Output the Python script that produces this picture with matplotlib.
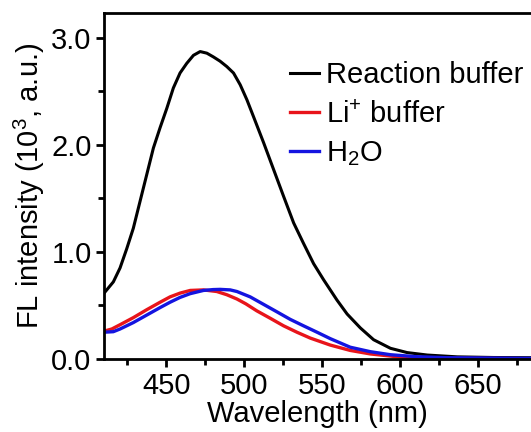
import numpy as np
import matplotlib
matplotlib.use('Agg')
import matplotlib.pyplot as plt
from matplotlib.ticker import MultipleLocator, FormatStrFormatter

plt.rcParams['font.family'] = ['Liberation Sans', 'DejaVu Sans']
plt.rcParams['mathtext.fontset'] = 'custom'
plt.rcParams['mathtext.rm'] = 'Liberation Sans'

# Reaction buffer (black)
wl_rxn = [410, 416, 420.3, 424.6, 428.8, 433.1, 437.4, 441.7, 446, 450.3, 454.5, 458.8,
          463.1, 467.4, 471.7, 476, 480.2, 484.5, 488.8, 493.1, 497.4, 501.7, 506, 512.4,
          518.8, 525.2, 531.7, 538, 544.5, 550.9, 559.5, 566, 574.5, 583, 593.8, 604.5,
          617.4, 636.7, 660, 684]
fl_rxn = [0.614, 0.72, 0.85, 1.03, 1.22, 1.47, 1.72, 1.97, 2.16, 2.34, 2.53, 2.67,
          2.76, 2.835, 2.87, 2.855, 2.82, 2.78, 2.73, 2.67, 2.56, 2.42, 2.26, 2.02,
          1.77, 1.52, 1.27, 1.08, 0.89, 0.74, 0.55, 0.42, 0.29, 0.18, 0.10, 0.06,
          0.037, 0.02, 0.014, 0.012]

# Li+ buffer (red)
wl_li = [410, 415, 420.3, 428.8, 437.4, 446, 452.4, 458.8, 465.3, 473.8, 482.4, 488.8,
         495.3, 501, 508, 516.7, 525.2, 533.8, 542.4, 555.2, 568, 581, 600, 620, 684]
fl_li = [0.26, 0.28, 0.32, 0.386, 0.46, 0.53, 0.58, 0.615, 0.64, 0.645, 0.63, 0.60,
         0.56, 0.515, 0.45, 0.38, 0.31, 0.25, 0.195, 0.13, 0.08, 0.047, 0.018, 0.007, 0.003]

# H2O (blue)
wl_h2o = [410, 416, 420.3, 428.8, 437.4, 446, 452.4, 458.8, 465.3, 473.8, 480, 484.5,
          491, 495.3, 503.8, 512.4, 521, 529.5, 538, 546.7, 555.2, 568, 581, 593.8, 610,
          630, 684]
fl_h2o = [0.25, 0.255, 0.28, 0.34, 0.41, 0.48, 0.53, 0.575, 0.61, 0.64, 0.648, 0.65,
          0.645, 0.63, 0.58, 0.51, 0.44, 0.37, 0.31, 0.25, 0.19, 0.11, 0.068, 0.04, 0.022,
          0.012, 0.006]

fig = plt.figure(figsize=(5.31, 4.32), dpi=100)
ax = fig.add_axes([104/531, 1-359/432, 1-104/531, (359-13)/432])

ax.plot(wl_rxn, fl_rxn, color='black', lw=2.2, label='Reaction buffer')
ax.plot(wl_li, fl_li, color='#e8141a', lw=2.4, label='Li$^{+}$ buffer')
ax.plot(wl_h2o, fl_h2o, color='#1414e0', lw=2.4, label='H$_{2}$O')

ax.set_xlim(410, 684)
ax.set_ylim(0, 3.23)
ax.xaxis.set_major_locator(MultipleLocator(50))
ax.xaxis.set_minor_locator(MultipleLocator(25))
ax.yaxis.set_major_locator(MultipleLocator(1.0))
ax.yaxis.set_minor_locator(MultipleLocator(0.5))
ax.yaxis.set_major_formatter(FormatStrFormatter('%.1f'))

for s in ['left', 'bottom', 'top']:
    ax.spines[s].set_linewidth(2)
ax.spines['right'].set_visible(False)
ax.tick_params(which='both', direction='out', width=2, labelsize=21, pad=3)
ax.tick_params(which='major', length=6)
ax.tick_params(which='minor', length=4.5)

ax.set_xlabel('Wavelength (nm)', fontsize=21, labelpad=0)
ax.set_ylabel('FL intensity (10$^{3}$, a.u.)', fontsize=21)
ax.yaxis.set_label_coords(-0.134, 0.5)

ax.legend(loc='upper left', bbox_to_anchor=(0.435, 0.86), frameon=False, fontsize=21,
          handlelength=1.0, handletextpad=0.25, labelspacing=0.38, borderaxespad=0,
          borderpad=0)

fig.savefig('out.png', dpi=100)
